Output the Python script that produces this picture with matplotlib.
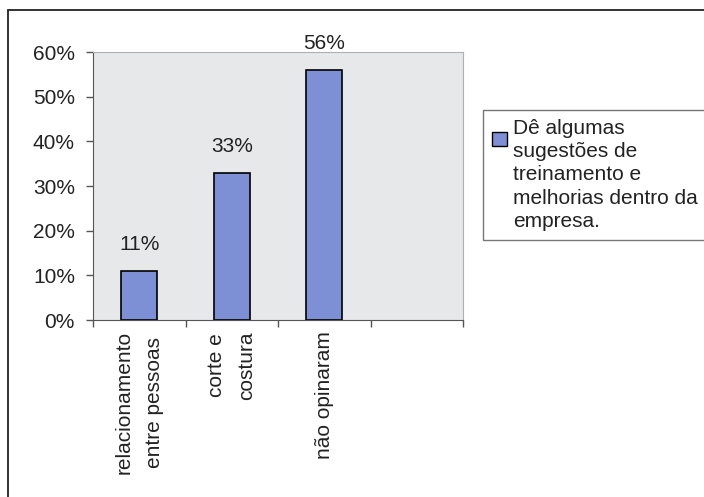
import matplotlib.pyplot as plt
from matplotlib.patches import Rectangle, Patch
from matplotlib.legend_handler import HandlerPatch
from matplotlib.ticker import PercentFormatter

categories = ["relacionamento\nentre pessoas", "corte e\ncostura", "não opinaram", ""]
values = [11, 33, 56, None]
value_labels = ["11%", "33%", "56%"]
series_name = "Dê algumas\nsugestões de\ntreinamento e\nmelhorias dentro da\nempresa."

plt.rcParams['font.family'] = ['Liberation Sans', 'DejaVu Sans']
FS = 15
BAR_COLOR = '#7d90d6'
TXT = '#222222'

W, H = 704, 497
fig = plt.figure(figsize=(W / 100, H / 100), dpi=100)

# outer chart border (runs past right and bottom edges)
fig.patches.append(Rectangle((8 / W, -0.05), 1.1, 1 - 10 / H + 0.05,
                             transform=fig.transFigure, fill=False,
                             edgecolor=TXT, linewidth=1.3))

ax = fig.add_axes([93 / W, 1 - 320 / H, (463 - 93) / W, (320 - 52) / H])
ax.set_facecolor('#e7e8ea')

x = list(range(len(categories)))
bar_x = [i for i, v in zip(x, values) if v is not None]
bar_v = [v for v in values if v is not None]
bars = ax.bar(bar_x, bar_v, width=0.39, color=BAR_COLOR,
              edgecolor='black', linewidth=1.2, zorder=3)

for b, lab in zip(bars, value_labels):
    ax.annotate(lab, (b.get_x() + b.get_width() / 2, b.get_height()),
                xytext=(0, 12), textcoords='offset points',
                ha='center', va='bottom', fontsize=FS, color=TXT,
                annotation_clip=False)

ax.set_xlim(-0.5, len(categories) - 0.5)
ax.set_ylim(0, 60)
ax.set_yticks(range(0, 61, 10))
ax.yaxis.set_major_formatter(PercentFormatter(decimals=0))
ax.set_xticks([i - 0.5 for i in range(len(categories) + 1)])
ax.set_xticklabels([])
ax.set_xticks(x, minor=True)
ax.set_xticklabels(categories, minor=True, rotation=90, va='top',
                   ha='center', fontsize=FS, linespacing=1.75, color=TXT)
ax.tick_params(axis='x', which='minor', length=0, pad=8)
ax.tick_params(axis='x', which='major', length=5, width=1, color='#555555')
ax.tick_params(axis='y', length=5, width=1, color='#555555',
               labelsize=FS, labelcolor=TXT, pad=8)

for side in ['top', 'right']:
    ax.spines[side].set_color('#b0b0b0')
for side in ['left', 'bottom']:
    ax.spines[side].set_color('#555555')


# legend marker sits beside the first line of the wrapped label
def top_square(legend, orig_handle, xdescent, ydescent, width, height, fontsize):
    return Rectangle((-xdescent, -ydescent + 26), width, height)


handle = Patch(facecolor=BAR_COLOR, edgecolor='black', linewidth=1)
leg = fig.legend([handle], [series_name], loc='upper left',
                 bbox_to_anchor=(483 / W, 1 - 110 / H), fontsize=FS,
                 frameon=True, fancybox=False, edgecolor='#555555',
                 handlelength=0.7, handleheight=0.7, handletextpad=0.3,
                 borderpad=0.45, borderaxespad=0,
                 handler_map={Patch: HandlerPatch(patch_func=top_square)})
leg.get_frame().set_linewidth(1)
for t in leg.get_texts():
    t.set_linespacing(1.27)
    t.set_color(TXT)

fig.savefig('out.png', dpi=100)
